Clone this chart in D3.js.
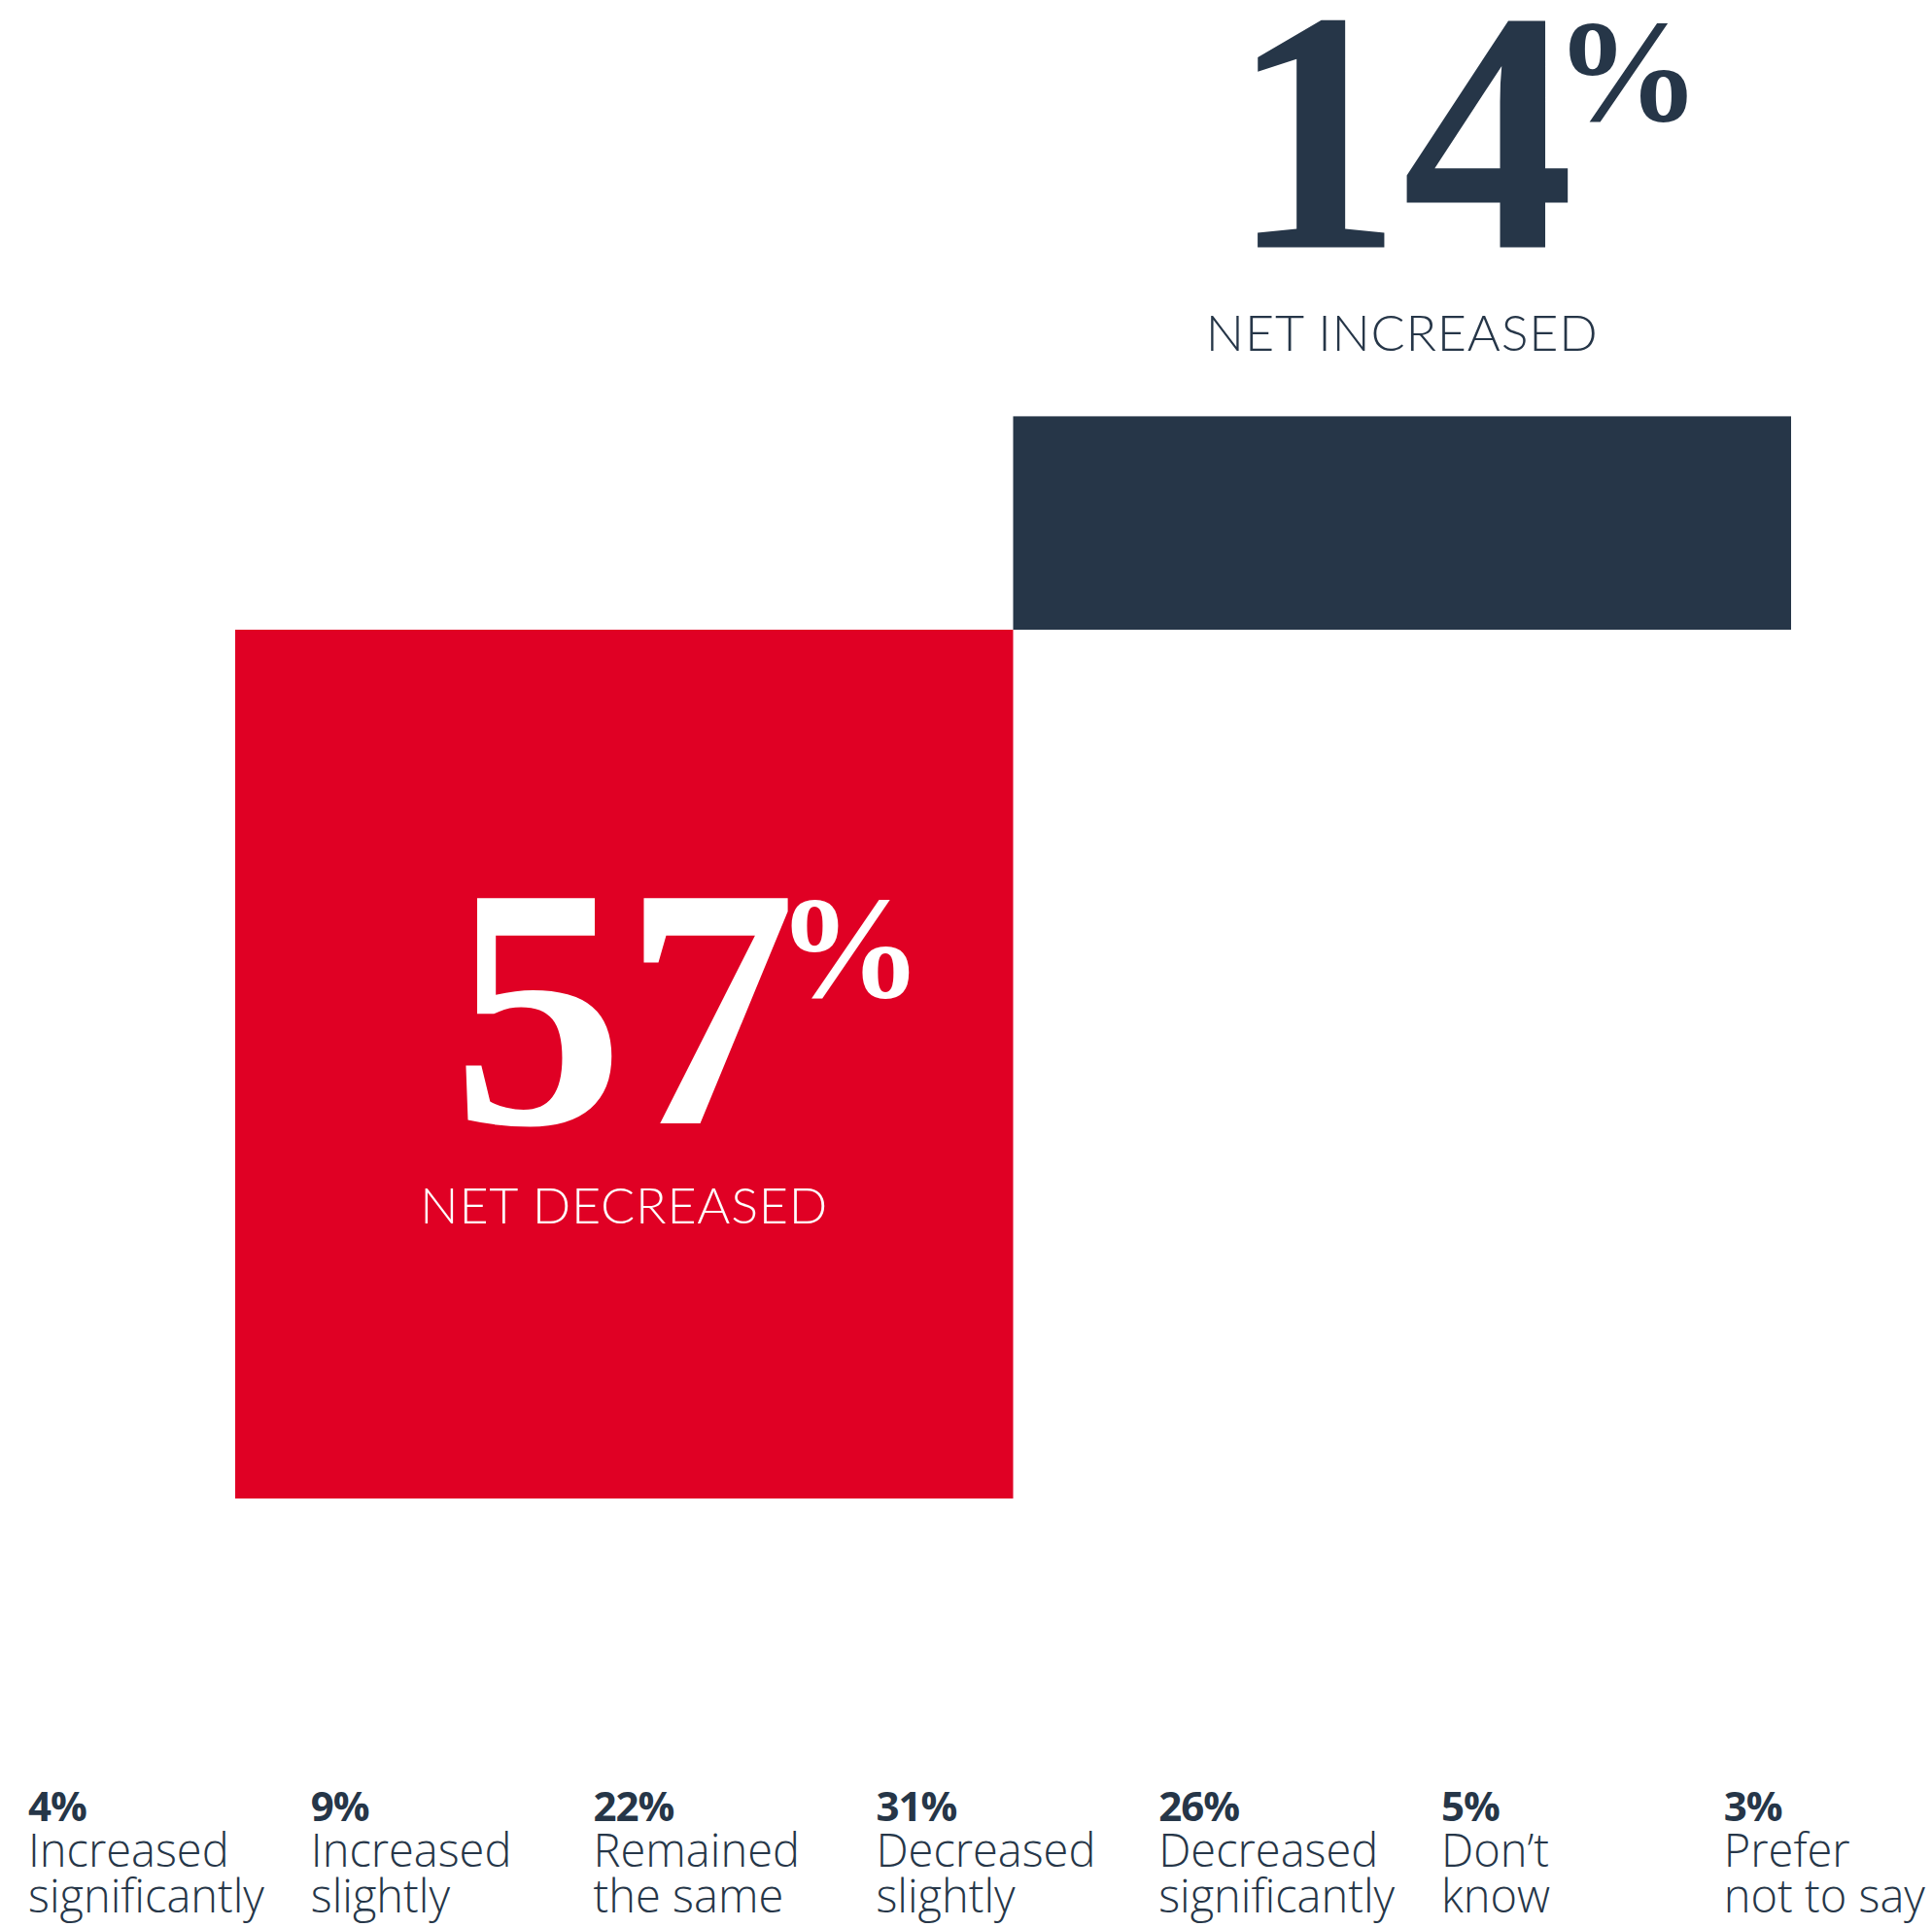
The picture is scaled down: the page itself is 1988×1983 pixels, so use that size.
<!DOCTYPE html>
<html>
<head>
<meta charset="utf-8">
<script src="https://cdn.jsdelivr.net/npm/d3@7"></script>
<style>
  html, body { margin: 0; padding: 0; background: #ffffff; }
  svg { display: block; }
</style>
</head>
<body>
<svg id="chart" width="1988" height="1983"></svg>
<script>
// Survey answer breakdown
const categories = [
  "Increased significantly", "Increased slightly", "Remained the same",
  "Decreased slightly", "Decreased significantly", "Don’t know", "Prefer not to say"
];
const categoryLines = [
  ["Increased", "significantly"], ["Increased", "slightly"], ["Remained", "the same"],
  ["Decreased", "slightly"], ["Decreased", "significantly"], ["Don’t", "know"], ["Prefer", "not to say"]
];
const values = [4, 9, 22, 31, 26, 5, 3];

// Net totals shown as the two blocks
const netNames = ["NET DECREASED", "NET INCREASED"];
const netValues = [-57, 14];

const NAVY = "#263648";
const RED = "#e00024";

const svg = d3.select("#chart");

const x = d3.scaleBand().domain(netNames).range([242, 1843]).padding(0);
const y = d3.scaleLinear().domain([0, 14]).range([648, 648 - 219.6]);

const nets = netNames.map((name, i) => ({ name, value: netValues[i], i }));

// Blocks
svg.append("g").selectAll("rect")
  .data(nets)
  .join("rect")
  .attr("x", d => x(d.name))
  .attr("width", x.bandwidth())
  .attr("y", d => y(Math.max(0, d.value)))
  .attr("height", d => Math.abs(y(d.value) - y(0)))
  .attr("fill", d => d.value >= 0 ? NAVY : RED);

// Big figures and captions
const labels = svg.append("g");
nets.forEach(d => {
  const cx = x(d.name) + x.bandwidth() / 2;
  let numBase, capBase, color;
  if (d.value >= 0) {
    numBase = y(d.value) - 174;
    capBase = y(d.value) - 67;
    color = NAVY;
  } else {
    const mid = (y(0) + y(d.value)) / 2;
    numBase = mid + 61;
    capBase = mid + 164;
    color = "#ffffff";
  }
  const num = labels.append("text")
    .attr("y", numBase)
    .attr("fill", color)
    .style("font-family", "'Liberation Serif', serif")
    .style("font-weight", 700);
  const digits = num.append("tspan")
    .style("font-size", "354px")
    .text(Math.abs(d.value));
  const w = digits.node().getComputedTextLength();
  digits.attr("x", cx - w / 2);
  num.append("tspan")
    .attr("x", cx + w / 2 - 20)
    .attr("y", numBase - 130)
    .style("font-size", "150px")
    .text("%");
  labels.append("text")
    .attr("x", cx).attr("y", capBase)
    .attr("text-anchor", "middle")
    .attr("fill", color)
    .style("font-family", "Lato, sans-serif")
    .style("font-weight", 300)
    .style("font-size", "52px")
    .style("letter-spacing", "0.8px")
    .text(d.name);
});

// Answer breakdown along the bottom
const xc = d3.scaleBand().domain(categories).range([29, 29 + 7 * 290.8]);
const items = svg.append("g").selectAll("text")
  .data(categories)
  .join("text")
  .attr("fill", NAVY)
  .style("font-family", "'Open Sans', sans-serif");

items.each(function(d, i) {
  const t = d3.select(this);
  const x0 = xc(d);
  t.append("tspan")
    .attr("x", x0).attr("y", 1874)
    .style("font-weight", 700)
    .style("font-size", "42px")
    .style("letter-spacing", "-1px")
    .text(values[i] + "%");
  categoryLines[i].forEach((line, j) => {
    t.append("tspan")
      .attr("x", x0).attr("y", 1921 + j * 47)
      .style("font-weight", 300)
      .style("font-size", "47px")
      .text(line);
  });
});
</script>
</body>
</html>
